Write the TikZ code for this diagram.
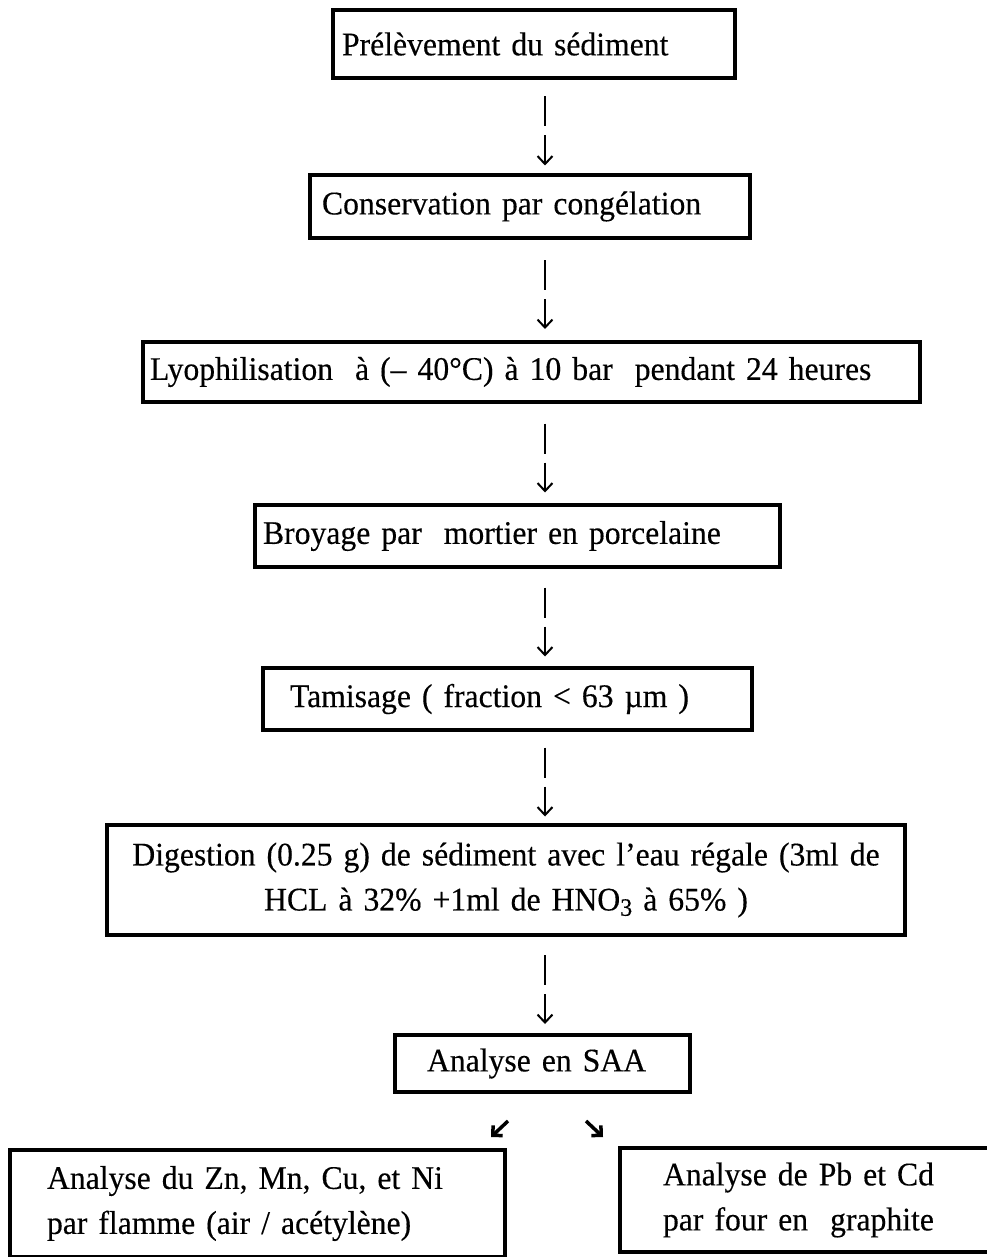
\documentclass[tikz,border=0pt]{standalone}
\usepackage{fontspec}
\setmainfont{Liberation Serif}[FakeStretch=0.96,FakeBold=0.3]
\usetikzlibrary{calc,arrows.meta}
\tikzset{
  box/.style={draw=black, line width=4.5pt, rectangle, inner ysep=0pt, font=\fontsize{33}{45}\selectfont, align=left},
  barline/.style={line width=2pt},
  arrline/.style={line width=2pt, -{Straight Barb[length=8pt,width=15pt,line width=2pt]}},
  diagarr/.style={line width=3.5pt, -{Straight Barb[length=7pt,width=14pt,line width=3.5pt]}}
}
\newcommand\linkboxes[3]{%
  \coordinate (m#1) at ($(#1.south -| #3)!0.5!(#2.north -| #3)$);
  \draw[barline] ($(m#1)+(0,-30)$) -- (m#1);
  \draw[arrline] ($(m#1)+(0,9)$) -- ($(m#1)+(0,39)$);}
\begin{document}
\begin{tikzpicture}[x=1pt,y=-1pt]
\useasboundingbox (0,0) rectangle (986,1257);
\coordinate (axis) at (545,0);
\node[box, text width=384pt, inner xsep=9pt, minimum height=68pt] (b1) at (534,44) {Prélèvement du sédiment};
\node[box, text width=416pt, inner xsep=12pt, minimum height=63pt] (b2) at (530,206.5) {Conservation par congélation};
\node[box, text width=763pt, inner xsep=7pt, minimum height=60pt] (b3) at (531.5,372) {Lyophilisation\ \ à (– 40°C) à 10 bar\ \ pendant 24 heures};
\node[box, text width=509pt, inner xsep=8pt, minimum height=62pt] (b4) at (517.5,536) {Broyage par\ \ mortier en porcelaine};
\node[box, text width=435pt, inner xsep=27pt, minimum height=62pt] (b5) at (507.5,699) {Tamisage ( fraction < 63 µm )};
\node[box, text width=780pt, inner xsep=9pt, minimum height=110pt, align=center] (b6) at (506,880) {Digestion (0.25 g) de sédiment avec l’eau régale (3ml de\\ HCL à 32\% +1ml de HNO\raisebox{-0.35ex}{\fontsize{25}{25}\selectfont 3} à 65\% )};
\node[box, text width=231pt, inner xsep=32pt, minimum height=57pt] (b7) at (542.5,1063.5) {Analyse en SAA};
\node[box, text width=421pt, inner xsep=37pt, minimum height=107pt] (b8) at (257.5,1203.5) {Analyse du Zn, Mn, Cu, et Ni\\ par flamme (air / acétylène)};
\node[box, text width=294pt, inner xsep=43pt, minimum height=104pt] (b9) at (810,1200) {Analyse de Pb et Cd\\ par four en\ \ graphite};
\linkboxes{b1}{b2}{axis}
\linkboxes{b2}{b3}{axis}
\linkboxes{b3}{b4}{axis}
\linkboxes{b4}{b5}{axis}
\linkboxes{b5}{b6}{axis}
\linkboxes{b6}{b7}{axis}
\coordinate (dl0) at (508,1121);
\coordinate (dl1) at (491,1137);
\coordinate (dr0) at (586,1121);
\coordinate (dr1) at (603,1137);
\draw[diagarr] (dl0) -- (dl1);
\draw[diagarr] (dr0) -- (dr1);
\end{tikzpicture}
\end{document}
